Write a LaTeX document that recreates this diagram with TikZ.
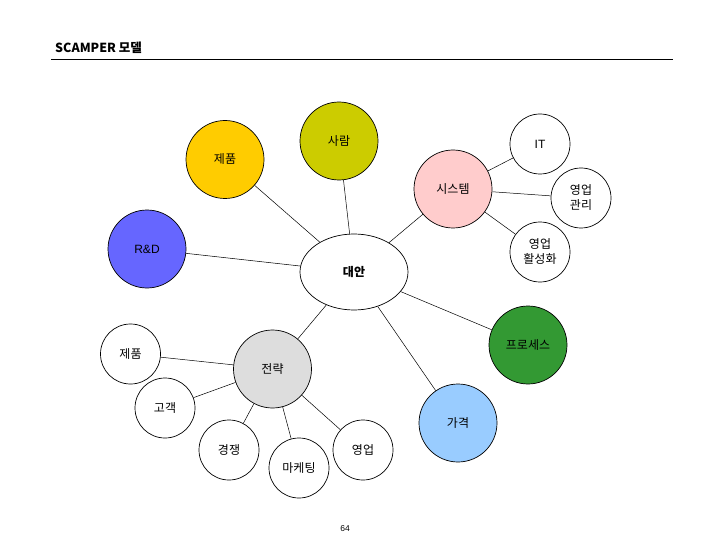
\documentclass[tikz,border=0pt]{standalone}
\usepackage{fontspec}
\setmainfont{Noto Sans CJK KR}
\newfontfamily\latinfont{Liberation Sans}
\usetikzlibrary{shapes.geometric}

\definecolor{cYellow}{HTML}{FFCC00}
\definecolor{cOlive}{HTML}{CCCC00}
\definecolor{cPink}{HTML}{FFCCCC}
\definecolor{cBlue}{HTML}{6666FF}
\definecolor{cGray}{HTML}{DDDDDD}
\definecolor{cSky}{HTML}{99CCFF}
\definecolor{cGreen}{HTML}{339933}

\begin{document}
\begin{tikzpicture}[x=1pt, y=-1pt,
    bubble/.style={circle, draw, line width=0.7pt, minimum size=78pt,
      inner sep=0pt, align=center, font=\fontsize{12}{15}\selectfont},
    leaf/.style={bubble, minimum size=60pt},
    link/.style={line width=0.5pt}]
    \useasboundingbox (0,0) rectangle (720,540);

    % Title
    \node[anchor=base west, inner sep=0pt, font=\fontsize{12.5}{14}\selectfont\bfseries]
      (title) at (55,53) {SCAMPER 모델};
    \coordinate (ruleL) at (51,59.5);
    \coordinate (ruleR) at (673,59.5);
    \draw[line width=1pt] (ruleL) -- (ruleR);

    % Centre
    \node[ellipse, draw, line width=0.7pt, minimum width=108pt, minimum height=76pt,
      font=\fontsize{12}{14}\selectfont\bfseries] (alt) at (354,272) {대안};

    % Upper branches
    \node[bubble, fill=cYellow] (product) at (225,159.5) {제품};
    \node[bubble, fill=cOlive] (people) at (339,141) {사람};
    \node[bubble, fill=cPink] (system) at (453,189) {시스템};
    \node[bubble, fill=cBlue] (rnd) at (147,249) {\latinfont R\&D};
    \node[bubble, fill=cGreen] (process) at (528,345) {프로세스};
    \node[bubble, fill=cSky] (price) at (458,423) {가격};
    \node[bubble, fill=cGray] (strategy) at (272.5,369) {전략};

    % System leaves
    \node[leaf] (it) at (540,144) {\latinfont IT};
    \node[leaf] (salesMgmt) at (581,198) {영업\\관리};
    \node[leaf] (salesAct) at (540,252) {영업\\활성화};

    % Strategy leaves
    \node[leaf] (sProduct) at (130.5,354) {제품};
    \node[leaf] (customer) at (165,408) {고객};
    \node[leaf] (compete) at (229,450) {경쟁};
    \node[leaf] (marketing) at (299,468) {마케팅};
    \node[leaf] (sales) at (363,450) {영업};

    % Links
    \foreach \n in {product, people, system, rnd, process, price, strategy}
      \draw[link] (alt) -- (\n);
    \foreach \n in {it, salesMgmt, salesAct}
      \draw[link] (system) -- (\n);
    \foreach \n in {sProduct, customer, compete, marketing, sales}
      \draw[link] (strategy) -- (\n);

    % Page number
    \node[font=\latinfont\fontsize{8.5}{10}\selectfont] (page) at (345,529) {64};
  \end{tikzpicture}
\end{document}
